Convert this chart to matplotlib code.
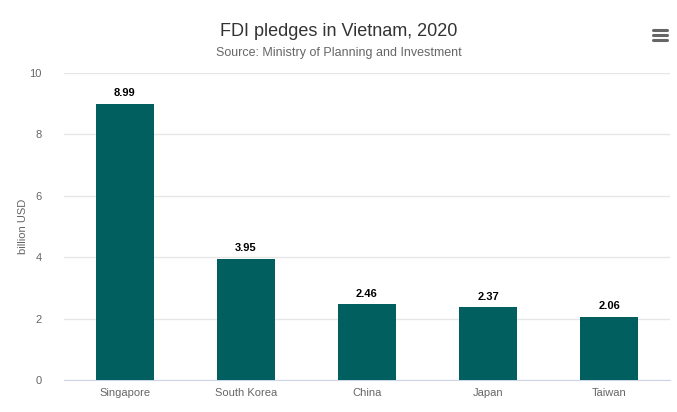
import matplotlib
matplotlib.use("Agg")
import matplotlib.pyplot as plt

plt.rcParams["font.family"] = ["Liberation Sans", "DejaVu Sans"]

countries = ["Singapore", "South Korea", "China", "Japan", "Taiwan"]
pledges = [8.99, 3.95, 2.46, 2.37, 2.06]
yticks = [0, 2, 4, 6, 8, 10]

fig = plt.figure(figsize=(6.77, 4.12), dpi=100)
ax = fig.add_axes([64 / 677, 1 - 380 / 412, 606 / 677, 307 / 412])

x = range(len(countries))
bars = ax.bar(x, pledges, width=0.48, color="#015f60", zorder=3)
for rect, v in zip(bars, pledges):
    ax.annotate(f"{v:.2f}", (rect.get_x() + rect.get_width() / 2, v),
                xytext=(0, 4), textcoords="offset points",
                ha="center", va="bottom", fontsize=8, fontweight="bold",
                color="black")

ax.set_xlim(-0.5, len(countries) - 0.5)
ax.set_ylim(0, 10)
ax.set_yticks(yticks)
ax.set_xticks(list(x))
ax.set_xticklabels(countries)
ax.tick_params(axis="both", length=0, labelsize=8, colors="#666666")
ax.tick_params(axis="y", pad=16)
ax.tick_params(axis="x", pad=6)
ax.grid(axis="y", color="#e6e6e6", linewidth=1, zorder=0)
for s in ["top", "right", "left"]:
    ax.spines[s].set_visible(False)
ax.spines["bottom"].set_color("#ccd6eb")
ax.set_ylabel("billion USD", fontsize=8, color="#666666")
ax.yaxis.set_label_coords(-36 / 606, 0.5)

fig.text(0.5, 1 - 32 / 412, "FDI pledges in Vietnam, 2020", ha="center",
         va="center", fontsize=13, color="#333333")
fig.text(0.5, 1 - 53 / 412, "Source: Ministry of Planning and Investment",
         ha="center", va="center", fontsize=9, color="#666666")

# menu icon
for yy in [30, 35, 40]:
    fig.add_artist(plt.Line2D([653 / 677, 667 / 677],
                              [1 - yy / 412, 1 - yy / 412],
                              color="#666666", linewidth=2.2,
                              solid_capstyle="round"))

fig.savefig("out.png", dpi=100)
